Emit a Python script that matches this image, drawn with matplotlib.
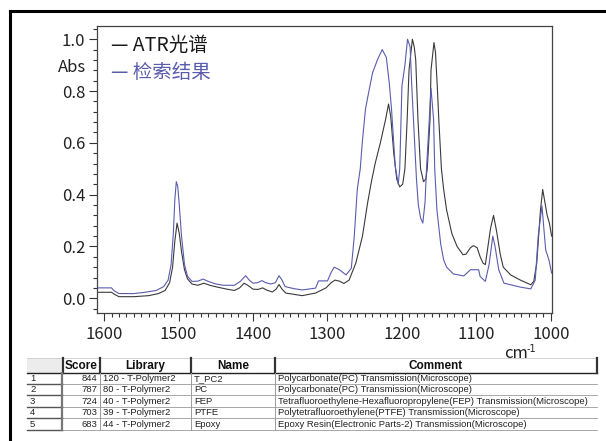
import matplotlib
matplotlib.use("Agg")
import matplotlib.pyplot as plt
from matplotlib.ticker import MultipleLocator, FormatStrFormatter
from matplotlib.patches import Rectangle

plt.rcParams['font.family'] = ['Noto Sans CJK SC', 'DejaVu Sans']

# ---------------- data ----------------
atr_x = [1609, 1590, 1586, 1580, 1560, 1540, 1527, 1518, 1512, 1508, 1505, 1502, 1499, 1496,
         1492, 1488, 1482, 1474, 1466, 1458, 1448, 1435, 1425, 1418, 1412, 1407, 1400, 1393,
         1387, 1382, 1374, 1369, 1365, 1361, 1356, 1345, 1334, 1316, 1302, 1295, 1290, 1284,
         1278, 1271, 1262, 1253, 1246, 1241, 1236, 1229, 1222, 1218, 1215, 1211, 1207, 1203,
         1199, 1196, 1193, 1190.5, 1186, 1183.5, 1181.5, 1178.5, 1175, 1171, 1168, 1166,
         1162.3, 1161, 1157, 1155, 1152.6, 1150.5, 1147, 1144, 1140, 1133, 1126, 1118, 1114,
         1108, 1104, 1099, 1095, 1091, 1088, 1085, 1081, 1077, 1073, 1068, 1064, 1054, 1041,
         1027, 1023, 1019, 1014, 1011, 1008, 1005, 1002, 999]
atr_y = [0.023, 0.023, 0.015, 0.006, 0.006, 0.010, 0.018, 0.03, 0.06, 0.12, 0.22, 0.29, 0.25, 0.18,
         0.11, 0.075, 0.055, 0.05, 0.058, 0.05, 0.043, 0.035, 0.03, 0.04, 0.058, 0.05, 0.035, 0.034,
         0.04, 0.032, 0.024, 0.035, 0.053, 0.035, 0.02, 0.015, 0.01, 0.02, 0.04, 0.06, 0.07, 0.066,
         0.057, 0.07, 0.135, 0.24, 0.37, 0.45, 0.52, 0.60, 0.69, 0.75, 0.70, 0.56, 0.46, 0.43,
         0.44, 0.50, 0.69, 0.88, 1.0, 0.97, 0.92, 0.69, 0.50, 0.45, 0.46, 0.50,
         0.69, 0.88, 0.987, 0.95, 0.82, 0.69, 0.50, 0.42, 0.34, 0.25, 0.20, 0.168, 0.17,
         0.195, 0.203, 0.195, 0.16, 0.135, 0.13, 0.19, 0.27, 0.32, 0.26, 0.17, 0.12, 0.09, 0.07,
         0.052, 0.065, 0.135, 0.34, 0.42, 0.37, 0.32, 0.29, 0.24]

result_x = [1609, 1590, 1587, 1580, 1560, 1545, 1530, 1520, 1514, 1510, 1507, 1505, 1503, 1501,
            1499, 1496, 1492, 1488, 1482, 1474, 1467, 1460, 1450, 1440, 1425, 1417, 1410, 1405,
            1400, 1394, 1388, 1383, 1376, 1370, 1365, 1361, 1357, 1345, 1334, 1316, 1312, 1300,
            1295, 1291, 1284, 1275, 1268, 1264, 1260, 1256, 1253, 1249, 1245, 1239.5, 1233,
            1226.5, 1221, 1217, 1214, 1209, 1205, 1203, 1200, 1196, 1192.5, 1189, 1187, 1184,
            1180.5, 1178, 1175, 1172, 1169, 1167, 1161, 1157.5, 1156, 1153, 1148, 1144, 1140,
            1131, 1117, 1108, 1097, 1095, 1088, 1083, 1078, 1075, 1070, 1063, 1054, 1041, 1027,
            1021, 1017, 1012, 1007, 1002.6, 999]
result_y = [0.04, 0.04, 0.03, 0.018, 0.018, 0.023, 0.03, 0.045, 0.07, 0.13, 0.25, 0.38, 0.45, 0.43,
            0.36, 0.24, 0.13, 0.085, 0.065, 0.066, 0.074, 0.065, 0.055, 0.05, 0.05, 0.065, 0.087, 0.07,
            0.058, 0.06, 0.068, 0.06, 0.055, 0.06, 0.087, 0.07, 0.045, 0.037, 0.032, 0.039, 0.067, 0.067,
            0.10, 0.12, 0.11, 0.09, 0.116, 0.24, 0.42, 0.50, 0.61, 0.73, 0.79, 0.87, 0.92,
            0.96, 0.93, 0.83, 0.73, 0.51, 0.44, 0.50, 0.82, 0.90, 1.0, 0.97, 0.83, 0.66,
            0.46, 0.36, 0.31, 0.29, 0.37, 0.50, 0.81, 0.69, 0.50, 0.34, 0.21, 0.148, 0.12,
            0.094, 0.086, 0.11, 0.11, 0.084, 0.065, 0.13, 0.24, 0.20, 0.11, 0.058, 0.052, 0.043, 0.036,
            0.07, 0.24, 0.357, 0.187, 0.148, 0.097]

legend_labels = ["ATR光谱", "检索结果"]

row_ids = ["1", "2", "3", "4", "5"]
scores = ["844", "787", "724", "703", "683"]
libraries = ["120 - T-Polymer2", "80 - T-Polymer2", "40 - T-Polymer2",
             "39 - T-Polymer2", "44 - T-Polymer2"]
names = ["T_PC2", "PC", "FEP", "PTFE", "Epoxy"]
comments = ["Polycarbonate(PC) Transmission(Microscope)",
            "Polycarbonate(PC) Transmission(Microscope)",
            "Tetrafluoroethylene-Hexafluoropropylene(FEP) Transmission(Microscope)",
            "Polytetrafluoroethylene(PTFE) Transmission(Microscope)",
            "Epoxy Resin(Electronic Parts-2) Transmission(Microscope)"]
headers = ["", "Score", "Library", "Name", "Comment"]

# ---------------- figure ----------------
W, H = 606, 441
fig = plt.figure(figsize=(W / 100, H / 100), dpi=100)
fig.patch.set_facecolor('white')

BLACK = '#3a3a3a'
BLUE = '#5a5cad'

def fx(px):
    return px / W

def fy(py):
    return 1 - py / H

ax = fig.add_axes([fx(97), fy(313), fx(552) - fx(97), fy(26) - fy(313)])
ax.plot(atr_x, atr_y, color=BLACK, lw=0.8)
ax.plot(result_x, result_y, color=BLUE, lw=0.8)
ax.set_xlim(1609.5, 998.5)
ax.set_ylim(-0.057, 1.051)

ax.xaxis.set_major_locator(MultipleLocator(100))
ax.xaxis.set_minor_locator(MultipleLocator(10))
ax.yaxis.set_major_locator(MultipleLocator(0.2))
ax.yaxis.set_minor_locator(MultipleLocator(0.04))
ax.yaxis.set_major_formatter(FormatStrFormatter('%.1f'))
ax.tick_params(which='major', direction='out', length=5.5, width=0.8, color='#333333',
               labelsize=12, labelcolor='#222222')
ax.tick_params(axis='x', which='major', pad=4)
ax.tick_params(axis='y', which='major', pad=3)
ax.tick_params(which='minor', direction='out', length=3, width=0.8, color='#333333')
for s in ax.spines.values():
    s.set_color('#444444')
    s.set_linewidth(0.9)

# legend-like texts
fig.text(fx(111), fy(45), "— " + legend_labels[0], color='#1a1a1a', fontsize=14,
         va='center', ha='left')
fig.text(fx(111), fy(73), "— " + legend_labels[1], color=BLUE, fontsize=14,
         va='center', ha='left')
fig.text(fx(86), fy(68), "Abs", color='#222222', fontsize=12, va='center', ha='right')

# x unit
fig.text(fx(504), fy(353), "cm", color='#222222', fontsize=12, va='center', ha='left')
fig.text(fx(527), fy(349), "-1", color='#222222', fontsize=7, family='DejaVu Sans',
         va='center', ha='left')

# ---------------- overlay: frame and table ----------------
ov = fig.add_axes([0, 0, 1, 1])
ov.set_xlim(0, W)
ov.set_ylim(H, 0)
ov.axis('off')
ov.patch.set_alpha(0)

ov.plot([10, 10], [11, H + 5], color='black', lw=2.2, solid_capstyle='projecting')
ov.plot([10, W + 5], [11, 11], color='black', lw=2.2, solid_capstyle='projecting')

cols = [27, 63, 100, 191, 275, 597]
head_top, head_bot = 358, 372.5
row_h = 11.4

# header
ov.add_patch(Rectangle((cols[0], head_top), cols[1] - cols[0], head_bot - head_top,
                       facecolor='#ececec', edgecolor='none'))
ov.plot([cols[0], cols[-1]], [head_bot, head_bot], color='#222222', lw=1.0)
ov.plot([cols[0], cols[-1]], [head_top, head_top], color='#cccccc', lw=0.6)
for c in cols[1:]:
    ov.plot([c, c], [head_top, head_bot], color='#333333', lw=1.6)
for i, h in enumerate(headers):
    if h:
        ov.text((cols[i] + cols[i + 1]) / 2, (head_top + head_bot) / 2 + 0.5, h,
                family='Liberation Sans', fontweight='bold', fontsize=8.5,
                ha='center', va='center', color='#111111')

# body rows
for r in range(len(row_ids)):
    top = head_bot + r * row_h
    bot = top + row_h
    cy = (top + bot) / 2 + 0.3
    ov.plot([cols[0], cols[-1]], [bot, bot], color='#9a9a9a', lw=0.6)
    ov.plot([cols[0], cols[1] - 1], [bot, bot], color='#555555', lw=1.0)
    ov.plot([cols[1] - 1, cols[1] - 1], [top, bot], color='#777777', lw=1.6)
    for c in cols[2:5]:
        ov.plot([c, c], [top, bot], color='#9a9a9a', lw=0.7)
    fkw = dict(family='Liberation Sans', fontsize=6.8, va='center', color='#222222')
    ov.text(cols[0] + 3, cy, row_ids[r], ha='left', **fkw)
    ov.text(cols[2] - 3, cy, scores[r], ha='right', **fkw)
    ov.text(cols[2] + 3, cy, libraries[r], ha='left', **fkw)
    ov.text(cols[3] + 3, cy, names[r], ha='left', **fkw)
    ov.text(cols[4] + 3, cy, comments[r], ha='left', **fkw)

fig.savefig("out.png", dpi=100)
